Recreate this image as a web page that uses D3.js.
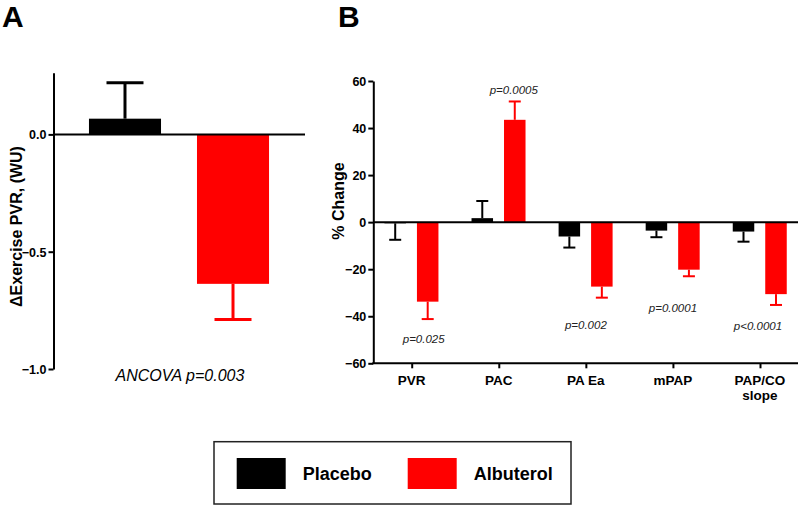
<!DOCTYPE html>
<html>
<head>
<meta charset="utf-8">
<script src="https://cdn.jsdelivr.net/npm/d3@7"></script>
<style>
  body { margin: 0; background: #fff; }
  svg { display: block; font-family: "Liberation Sans", Arial, sans-serif; }
</style>
</head>
<body>
<svg id="chart" width="800" height="505"></svg>
<script>
// ---------- Data ----------
// Panel A
const groupsA = ["Placebo", "Albuterol"];
const valuesA = [0.067, -0.637];
const errorsA = [0.153, 0.152];
const ticksA = [0.0, -0.5, -1.0];
const noteA = "ANCOVA p=0.003";

// Panel B
const categoriesB = ["PVR", "PAC", "PA Ea", "mPAP", "PAP/CO slope"];
const placeboB = [-0.5, 1.7, -6.1, -3.6, -4.0];
const placeboErrB = [7.0, 7.3, 4.7, 2.8, 4.3];
const albuterolB = [-33.8, 43.5, -27.4, -20.2, -30.6];
const albuterolErrB = [7.4, 7.8, 4.7, 2.8, 4.6];
const ticksB = [60, 40, 20, 0, -20, -40, -60];
const pLabelsB = ["p=0.025", "p=0.0005", "p=0.002", "p=0.0001", "p<0.0001"];
const pAnchorB = [-49.8, 56.0, -43.7, -36.5, -44.0];

const seriesNames = ["Placebo", "Albuterol"];
const seriesColors = ["#000000", "#ff0000"];

// ---------- Drawing ----------
const svg = d3.select("#chart");
const color = d3.scaleOrdinal().domain(seriesNames).range(seriesColors);

// Panel letters
svg.append("text").attr("x", 2).attr("y", 27).text("A")
  .attr("font-size", 30).attr("font-weight", "bold");
svg.append("text").attr("x", 338).attr("y", 27).text("B")
  .attr("font-size", 30).attr("font-weight", "bold");

// ===== Panel A =====
const axA = 53.5;
const yA = d3.scaleLinear().domain([-1.0, 0.263]).range([369, 72.7]);
const xA = d3.scaleBand().domain(groupsA).range([53, 305])
  .paddingInner(0.333).paddingOuter(0.333);

const gA = svg.append("g");
// bars
gA.selectAll("rect.bar").data(groupsA).join("rect")
  .attr("x", d => xA(d))
  .attr("width", xA.bandwidth())
  .attr("y", (d, i) => yA(Math.max(0, valuesA[i])))
  .attr("height", (d, i) => Math.abs(yA(valuesA[i]) - yA(0)))
  .attr("fill", d => color(d));
// error bars (one-sided)
groupsA.forEach((g, i) => {
  const cx = xA(g) + xA.bandwidth() / 2;
  const v = valuesA[i];
  const end = v >= 0 ? v + errorsA[i] : v - errorsA[i];
  gA.append("line").attr("x1", cx).attr("x2", cx)
    .attr("y1", yA(v)).attr("y2", yA(end))
    .attr("stroke", color(g)).attr("stroke-width", 3);
  gA.append("line").attr("x1", cx - 18.5).attr("x2", cx + 18.5)
    .attr("y1", yA(end)).attr("y2", yA(end))
    .attr("stroke", color(g)).attr("stroke-width", 3);
});
// zero line
gA.append("line").attr("x1", axA).attr("x2", 305)
  .attr("y1", yA(0)).attr("y2", yA(0))
  .attr("stroke", "#000").attr("stroke-width", 2);
// y axis
const axisA = gA.append("g").attr("transform", `translate(${axA},0)`)
  .call(d3.axisLeft(yA).tickValues(ticksA).tickFormat(d3.format(".1f")).tickSize(5).tickSizeOuter(0));
axisA.select(".domain").attr("stroke-width", 2);
axisA.selectAll(".tick line").attr("stroke-width", 2);
axisA.selectAll(".tick text").attr("font-size", 12.5).attr("font-weight", "bold")
  .attr("font-family", "Liberation Sans, Arial, sans-serif").attr("x", -7).attr("dy", "0.35em");
// y label
svg.append("text")
  .attr("transform", `translate(22,226.5) rotate(-90)`)
  .attr("text-anchor", "middle").attr("font-size", 16).attr("font-weight", "bold")
  .text("\u0394Exercise PVR, (WU)");
// note
svg.append("text").attr("x", 180).attr("y", 381).attr("text-anchor", "middle")
  .attr("font-size", 16).attr("font-style", "italic").text(noteA);

// ===== Panel B =====
const axB = 373.3;
const yB = d3.scaleLinear().domain([-60, 60]).range([363.3, 81]);
const xB = d3.scalePoint().domain(categoriesB).range([411.7, 760]);
const sub = d3.scaleBand().domain(seriesNames).range([-27.25, 26.75]).paddingInner(0.338);

const gB = svg.append("g");
const seriesData = [
  { name: "Placebo", vals: placeboB, errs: placeboErrB },
  { name: "Albuterol", vals: albuterolB, errs: albuterolErrB }
];
seriesData.forEach(s => {
  const col = color(s.name);
  categoriesB.forEach((c, i) => {
    const v = s.vals[i];
    const x0 = xB(c) + sub(s.name);
    const cx = x0 + sub.bandwidth() / 2;
    gB.append("rect")
      .attr("x", x0).attr("width", sub.bandwidth())
      .attr("y", yB(Math.max(0, v)))
      .attr("height", Math.abs(yB(v) - yB(0)))
      .attr("fill", col);
    const end = v >= 0 ? v + s.errs[i] : v - s.errs[i];
    gB.append("line").attr("x1", cx).attr("x2", cx)
      .attr("y1", yB(v)).attr("y2", yB(end))
      .attr("stroke", col).attr("stroke-width", 2);
    gB.append("line").attr("x1", cx - 6).attr("x2", cx + 6)
      .attr("y1", yB(end)).attr("y2", yB(end))
      .attr("stroke", col).attr("stroke-width", 2);
  });
});
// zero line
gB.append("line").attr("x1", axB).attr("x2", 798)
  .attr("y1", yB(0)).attr("y2", yB(0))
  .attr("stroke", "#000").attr("stroke-width", 2);
// y axis
const axisB = gB.append("g").attr("transform", `translate(${axB},0)`)
  .call(d3.axisLeft(yB).tickValues(ticksB).tickSize(5).tickSizeOuter(0));
axisB.select(".domain").attr("stroke-width", 2);
axisB.selectAll(".tick line").attr("stroke-width", 2);
axisB.selectAll(".tick text").attr("font-size", 12.5).attr("font-weight", "bold")
  .attr("font-family", "Liberation Sans, Arial, sans-serif").attr("x", -7).attr("dy", "0.35em");
// x axis
const axisBX = gB.append("g").attr("transform", `translate(0,${yB(-60)})`)
  .call(d3.axisBottom(xB).tickSize(5).tickSizeOuter(0).tickFormat(""));
axisBX.select(".domain").remove();
axisBX.selectAll(".tick line").attr("stroke-width", 2);
gB.append("line").attr("x1", axB - 1).attr("x2", 798)
  .attr("y1", yB(-60)).attr("y2", yB(-60))
  .attr("stroke", "#000").attr("stroke-width", 2);
// category labels (multi-line)
categoriesB.forEach(c => {
  const words = c === "PAP/CO slope" ? ["PAP/CO", "slope"] : [c];
  const t = gB.append("text").attr("text-anchor", "middle")
    .attr("font-size", 13.5).attr("font-weight", "bold");
  words.forEach((w, k) => {
    t.append("tspan").attr("x", xB(c)).attr("y", 385 + k * 15).text(w);
  });
});
// p-values
const pDx = [12, 15, 0, 0, -2];
categoriesB.forEach((c, i) => {
  gB.append("text").attr("x", xB(c) + pDx[i]).attr("y", yB(pAnchorB[i]))
    .attr("dy", "0.35em").attr("text-anchor", "middle")
    .attr("font-size", 11.5).attr("font-style", "italic").attr("fill", "#222")
    .text(pLabelsB[i]);
});
// y label
svg.append("text")
  .attr("transform", `translate(344,201) rotate(-90)`)
  .attr("text-anchor", "middle").attr("font-size", 16).attr("font-weight", "bold")
  .text("% Change");

// ===== Legend =====
const lg = svg.append("g");
lg.append("rect").attr("x", 214).attr("y", 441.7).attr("width", 357).attr("height", 62.3)
  .attr("fill", "none").attr("stroke", "#222").attr("stroke-width", 1.5);
const legX = [236.7, 407.7];
seriesNames.forEach((n, i) => {
  lg.append("rect").attr("x", legX[i]).attr("y", 458).attr("width", 49).attr("height", 31)
    .attr("fill", color(n));
  lg.append("text").attr("x", legX[i] + 66).attr("y", 479.5)
    .attr("font-size", 18).attr("font-weight", "bold").text(n);
});
</script>
</body>
</html>
